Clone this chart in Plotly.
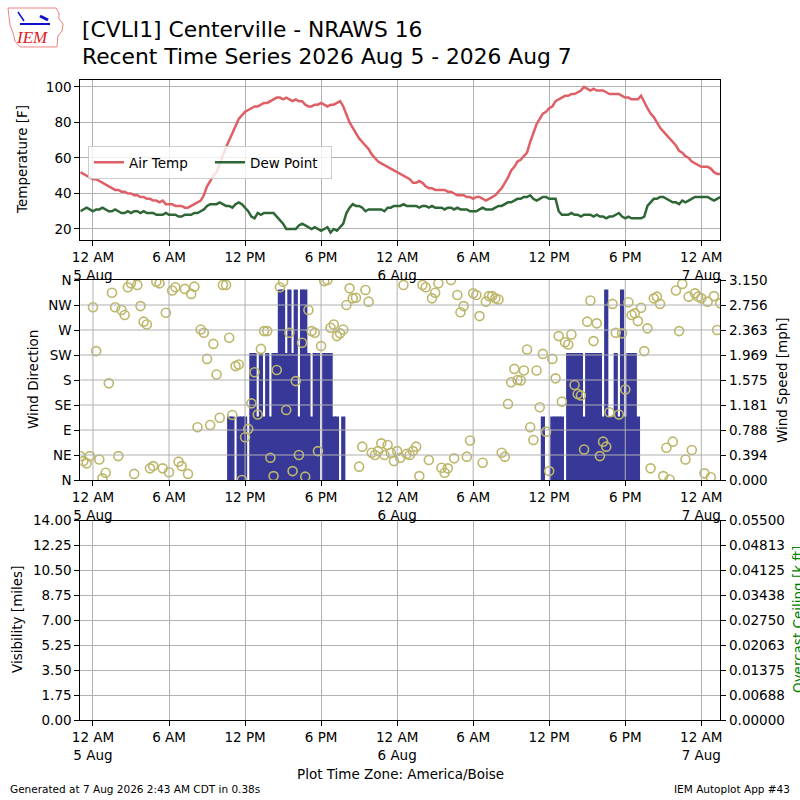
import pandas as pd
import plotly.graph_objects as go

# observations every 15 minutes, America/Boise time
times = pd.date_range("2026-08-04 23:00", periods=203, freq="15min")

air_temp = [
    52, 51, 50, 49, 48, 48, 47, 46, 45, 44,
    43, 42, 42, 41, 41, 40, 40, 39, 39, 38,
    38, 37, 37, 36, 36, 35, 36, 34, 34, 34,
    33, 33, 33, 32, 32, 33, 34, 35, 36, 39,
    44, 47, 50, 52, 57, 62, 66, 70, 74, 78,
    82, 84, 86, 87, 88, 89, 89, 90, 91, 91,
    92, 93, 94, 94, 93, 94, 93, 92, 93, 92,
    92, 90, 89, 89, 90, 90, 91, 90, 89, 90,
    90, 91, 92, 89, 84, 80, 77, 74, 71, 69,
    67, 65, 62, 60, 58, 57, 56, 55, 54, 53,
    52, 51, 50, 49, 48, 46, 46, 47, 46, 44,
    43, 43, 42, 42, 42, 42, 41, 41, 40, 39,
    39, 39, 38, 38, 37, 38, 38, 37, 36, 37,
    38, 39, 41, 43, 46, 49, 53, 55, 58, 59,
    61, 63, 69, 74, 79, 82, 85, 86, 88, 89,
    92, 93, 94, 95, 95, 96, 96, 97, 98, 100,
    99, 98, 99, 98, 98, 98, 97, 96, 96, 96,
    96, 95, 94, 94, 93, 93, 93, 95, 91, 88,
    85, 83, 80, 77, 75, 73, 71, 69, 67, 64,
    63, 61, 60, 58, 57, 56, 55, 55, 55, 54,
    52, 51, 51,
]

dew_point = [
    30, 31, 32, 31, 30, 31, 31, 32, 31, 30,
    30, 31, 30, 29, 29, 30, 29, 30, 30, 29,
    30, 29, 29, 29, 28, 28, 28, 29, 28, 28,
    28, 27, 27, 28, 28, 28, 29, 29, 30, 31,
    33, 34, 34, 34, 35, 34, 33, 33, 32, 34,
    35, 34, 32, 30, 27, 26, 29, 28, 29, 29,
    29, 29, 27, 25, 23, 20, 20, 20, 20, 22,
    23, 22, 21, 20, 21, 20, 19, 20, 21, 18,
    20, 19, 21, 23, 29, 32, 34, 33, 33, 32,
    30, 31, 31, 31, 31, 31, 30, 32, 32, 33,
    33, 33, 34, 33, 33, 33, 33, 32, 33, 33,
    32, 33, 32, 32, 32, 31, 32, 32, 31, 32,
    31, 31, 31, 30, 30, 30, 31, 32, 31, 31,
    31, 32, 33, 33, 34, 35, 35, 36, 37, 37,
    38, 38, 39, 37, 36, 37, 38, 38, 37, 37,
    37, 30, 28, 28, 28, 29, 28, 28, 27, 28,
    28, 28, 27, 28, 27, 27, 26, 27, 27, 28,
    29, 27, 26, 27, 26, 26, 26, 26, 27, 33,
    35, 37, 37, 38, 38, 37, 36, 35, 35, 34,
    36, 35, 36, 37, 38, 38, 38, 38, 38, 37,
    36, 37, 38,
]

wind_dir = [
    43, 34, 30, 43, 311, 232, 37, 3, 13, 174,
    337, 311, 43, 306, 297, 347, 354, 11, 351, 313,
    285, 280, 21, 25, 357, 354, 21, 301, 14, 341,
    347, 33, 25, 344, 11, 335, 348, 95, 271, 265,
    218, 99, 245, 190, 112, 351, 351, 256, 117, 205,
    208, 0, 77, 92, 138, 194, 118, 236, 268, 268,
    40, 7, 198, 347, 357, 126, 265, 16, 178, 45,
    247, 6, 306, 268, 265, 52, 241, 358, 360, 274,
    280, 259, 264, 271, 315, 345, 327, 328, 24, 60,
    342, 321, 49, 45, 52, 66, 45, 63, 49, 34,
    52, 40, 351, 47, 45, 52, 60, 7, 351, 347,
    36, 327, 337, 354, 22, 13, 21, 360, 39, 333,
    302, 313, 42, 71, 336, 333, 295, 31, 321, 331,
    331, 327, 325, 49, 42, 137, 176, 200, 180, 179,
    197, 235, 95, 72, 197, 131, 227, 87, 16, 218,
    183, 259, 141, 248, 244, 262, 171, 155, 152, 55,
    285, 323, 250, 282, 43, 69, 60, 122, 317, 265,
    118, 264, 163, 320, 297, 300, 286, 310, 232, 273,
    21, 327, 330, 317, 7, 58, 1, 69, 341, 268,
    353, 37, 330, 54, 336, 330, 327, 12, 321, 5,
    331, 270, 318,
]

wind_speed = [
    0, 0, 0, 0, 0, 0, 0, 0, 0, 0,
    0, 0, 0, 0, 0, 0, 0, 0, 0, 0,
    0, 0, 0, 0, 0, 0, 0, 0, 0, 0,
    0, 0, 0, 0, 0, 0, 0, 0, 0, 0,
    0, 0, 0, 0, 0, 0, 0, 1, 1, 0,
    1, 1, 1, 0, 2, 2, 1, 2, 1, 2,
    1, 2, 2, 3, 3, 2, 3, 2, 3, 1,
    3, 3, 2, 1, 2, 2, 0, 2, 2, 2,
    1, 1, 0, 1, 0, 0, 0, 0, 0, 0,
    0, 0, 0, 0, 0, 0, 0, 0, 0, 0,
    0, 0, 0, 0, 0, 0, 0, 0, 0, 0,
    0, 0, 0, 0, 0, 0, 0, 0, 0, 0,
    0, 0, 0, 0, 0, 0, 0, 0, 0, 0,
    0, 0, 0, 0, 0, 0, 0, 0, 0, 0,
    0, 0, 0, 0, 0, 0, 1, 0, 0, 1,
    1, 1, 1, 0, 2, 2, 2, 2, 2, 1,
    2, 2, 2, 2, 2, 1, 3, 1, 1, 2,
    1, 3, 1, 2, 2, 2, 1, 0, 0, 0,
    0, 0, 0, 0, 0, 0, 0, 0, 0, 0,
    0, 0, 0, 0, 0, 0, 0, 0, 0, 0,
    0, 0, 0,
]

x_ticks = ["2026-08-05 00:00", "2026-08-05 06:00", "2026-08-05 12:00",
           "2026-08-05 18:00", "2026-08-06 00:00", "2026-08-06 06:00",
           "2026-08-06 12:00", "2026-08-06 18:00", "2026-08-07 00:00"]
x_labels = ["12 AM<br>5 Aug", "6 AM", "12 PM", "6 PM", "12 AM<br>6 Aug",
            "6 AM", "12 PM", "6 PM", "12 AM<br>7 Aug"]
temp_ticks = [20, 40, 60, 80, 100]
dir_ticks = [0, 45, 90, 135, 180, 225, 270, 315, 360]
dir_labels = ["N", "NE", "E", "SE", "S", "SW", "W", "NW", "N"]
speed_labels = ["0.000", "0.394", "0.788", "1.181", "1.575", "1.969",
                "2.363", "2.756", "3.150"]
vis_labels = ["0.00", "1.75", "3.50", "5.25", "7.00", "8.75", "10.50",
              "12.25", "14.00"]
ceil_labels = ["0.00000", "0.00688", "0.01375", "0.02063", "0.02750",
               "0.03438", "0.04125", "0.04813", "0.05500"]

SPEED_MAX = 3.15
VIS_MAX = 14.0
CEIL_MAX = 0.055

FONT = "DejaVu Sans"
GRID = "#b0b0b0"
X_RANGE = ["2026-08-04 23:00", "2026-08-07 01:30"]
X_DOM = [80.3 / 800, 720.3 / 800]


def py(p):
    """Pixel row to paper y."""
    return 1 - p / 800


fig = go.Figure()

fig.add_trace(go.Scatter(x=times, y=air_temp, name="Air Temp", mode="lines",
                         line=dict(color="#df5f67", width=2.5),
                         xaxis="x", yaxis="y"))
fig.add_trace(go.Scatter(x=times, y=dew_point, name="Dew Point", mode="lines",
                         line=dict(color="#2f6636", width=2.5),
                         xaxis="x", yaxis="y"))

# bars wider than the 15 min step so neighbours merge into solid blocks
fig.add_trace(go.Bar(x=times, y=wind_speed, width=20 * 60 * 1000,
                     marker=dict(color="#383898", opacity=1,
                                 line=dict(width=0)),
                     showlegend=False, xaxis="x2", yaxis="y3"))
fig.add_trace(go.Scatter(x=times, y=wind_dir, mode="markers",
                         marker=dict(symbol="circle-open", size=9,
                                     color="#bdb76b", line=dict(width=1.6)),
                         showlegend=False, xaxis="x2", yaxis="y4"))

# visibility and ceiling have no reports in this window
fig.add_trace(go.Scatter(x=[], y=[], showlegend=False, xaxis="x3", yaxis="y5"))
fig.add_trace(go.Scatter(x=[], y=[], showlegend=False, xaxis="x3", yaxis="y6"))

tick_font = dict(family=FONT, size=13.5, color="black")
common = dict(showline=True, linecolor="black", linewidth=1, mirror=True,
              ticks="outside", ticklen=5, tickwidth=1, tickcolor="black",
              tickfont=tick_font, zeroline=False, gridcolor=GRID,
              gridwidth=1, automargin=False)

xcommon = dict(common, type="date", domain=X_DOM, range=X_RANGE,
               tickmode="array", tickvals=x_ticks, ticktext=x_labels)

fig.update_layout(
    template="none",
    width=800, height=800, autosize=False,
    margin=dict(l=0, r=0, t=0, b=0, pad=0),
    paper_bgcolor="white", plot_bgcolor="white",
    font=dict(family=FONT, size=13.5, color="black"),
    showlegend=True,
    legend=dict(orientation="h", x=88 / 800, y=py(146), xanchor="left",
                yanchor="top", bgcolor="rgba(255,255,255,0.8)",
                bordercolor="#cccccc", borderwidth=1,
                entrywidth=76, entrywidthmode="pixels",
                font=dict(family=FONT, size=13.5)),
    xaxis=dict(xcommon, anchor="y", showgrid=True),
    yaxis=dict(common, domain=[py(240), py(80)], range=[13.8, 103.9],
               tickmode="array", tickvals=temp_ticks, showgrid=True),
    xaxis2=dict(xcommon, anchor="y3", matches="x", showgrid=False),
    yaxis3=dict(common, domain=[py(480), py(280)], range=[0, SPEED_MAX],
                side="right", anchor="x2", showgrid=False, mirror=False,
                tickmode="array",
                tickvals=[i * SPEED_MAX / 8 for i in range(9)],
                ticktext=speed_labels),
    yaxis4=dict(common, range=[0, 360], side="left", anchor="x2",
                overlaying="y3", showgrid=False, mirror=False,
                tickmode="array", tickvals=dir_ticks, ticktext=dir_labels),
    xaxis3=dict(xcommon, anchor="y5", matches="x", showgrid=True),
    yaxis5=dict(common, domain=[py(720), py(520.5)], range=[0, VIS_MAX],
                side="left", anchor="x3", showgrid=True, mirror=False,
                tickmode="array",
                tickvals=[i * VIS_MAX / 8 for i in range(9)],
                ticktext=vis_labels),
    yaxis6=dict(common, range=[0, CEIL_MAX], side="right", anchor="x3",
                overlaying="y5", showgrid=False, mirror=False,
                tickmode="array",
                tickvals=[i * CEIL_MAX / 8 for i in range(9)],
                ticktext=ceil_labels),
)

# wind panel grid sits above the bars, as in the original
for t in x_ticks:
    fig.add_shape(type="line", xref="x2", yref="y3 domain", x0=t, x1=t,
                  y0=0, y1=1, line=dict(color=GRID, width=1), layer="above")
for d in dir_ticks[1:-1]:
    fig.add_shape(type="line", xref="x2 domain", yref="y4", x0=0, x1=1,
                  y0=d, y1=d, line=dict(color=GRID, width=1), layer="above")

# axis titles (the ceiling one runs off the right edge, as in the original)
titles = [
    ("Temperature [F]", 22, 160, "black"),
    ("Wind Direction", 33, 380, "black"),
    ("Wind Speed [mph]", 782, 380, "black"),
    ("Visibility [miles]", 17, 620, "black"),
    ("Overcast Ceiling [k ft]", 798, 620, "green"),
]
for text, x, y, color in titles:
    fig.add_annotation(text=text, x=x / 800, y=py(y), xref="paper",
                       yref="paper", textangle=-90, showarrow=False,
                       xanchor="center", yanchor="middle",
                       font=dict(family=FONT, size=13.5, color=color))

fig.add_annotation(text="[CVLI1] Centerville - NRAWS 16", x=80 / 800,
                   y=py(29), xref="paper", yref="paper", showarrow=False,
                   xanchor="left", yanchor="middle",
                   font=dict(family=FONT, size=21.8, color="black"))
fig.add_annotation(text="Recent Time Series 2026 Aug 5 - 2026 Aug 7",
                   x=80 / 800, y=py(56), xref="paper", yref="paper",
                   showarrow=False, xanchor="left", yanchor="middle",
                   font=dict(family=FONT, size=21.8, color="black"))
fig.add_annotation(text="Plot Time Zone: America/Boise", x=400 / 800,
                   y=py(774), xref="paper", yref="paper", showarrow=False,
                   xanchor="center", yanchor="middle",
                   font=dict(family=FONT, size=13.5, color="black"))
fig.add_annotation(text="Generated at 7 Aug 2026 2:43 AM CDT in 0.38s",
                   x=8 / 800, y=py(789), xref="paper", yref="paper",
                   showarrow=False, xanchor="left", yanchor="middle",
                   font=dict(family=FONT, size=10.5, color="black"))
fig.add_annotation(text="IEM Autoplot App #43", x=792 / 800, y=py(789),
                   xref="paper", yref="paper", showarrow=False,
                   xanchor="right", yanchor="middle",
                   font=dict(family=FONT, size=10.5, color="black"))

# IEM logo: rough Iowa outline, station glyph and lettering
iowa = [(8, 8), (56, 8), (59, 13), (59, 19), (63, 24), (62, 31), (58, 36),
        (57, 47), (20, 47), (15, 41), (13, 33), (10, 25), (8, 8)]
path = "M " + " L ".join(f"{x / 800:.4f},{py(y):.4f}" for x, y in iowa) + " Z"
fig.add_shape(type="path", path=path, xref="paper", yref="paper",
              line=dict(color="#f08080", width=1))
fig.add_shape(type="line", xref="paper", yref="paper", x0=20 / 800,
              x1=50 / 800, y0=py(24), y1=py(24),
              line=dict(color="#1010d0", width=2))
fig.add_shape(type="line", xref="paper", yref="paper", x0=18 / 800,
              x1=24 / 800, y0=py(12), y1=py(21),
              line=dict(color="#1010d0", width=1.5))
fig.add_shape(type="line", xref="paper", yref="paper", x0=40 / 800,
              x1=48 / 800, y0=py(16), y1=py(20),
              line=dict(color="#1010d0", width=3))
fig.add_annotation(text="IEM", x=32 / 800, y=py(38), xref="paper",
                   yref="paper", showarrow=False, xanchor="center",
                   yanchor="middle",
                   font=dict(family="Liberation Serif", size=17,
                             color="#e02020", style="italic"))

# page has a default body margin; drop it so the 800px figure fits exactly
fig.write_html("out.html", config={"displayModeBar": False},
               post_script="document.body.style.margin='0';"
                           "document.body.style.overflow='hidden';")
